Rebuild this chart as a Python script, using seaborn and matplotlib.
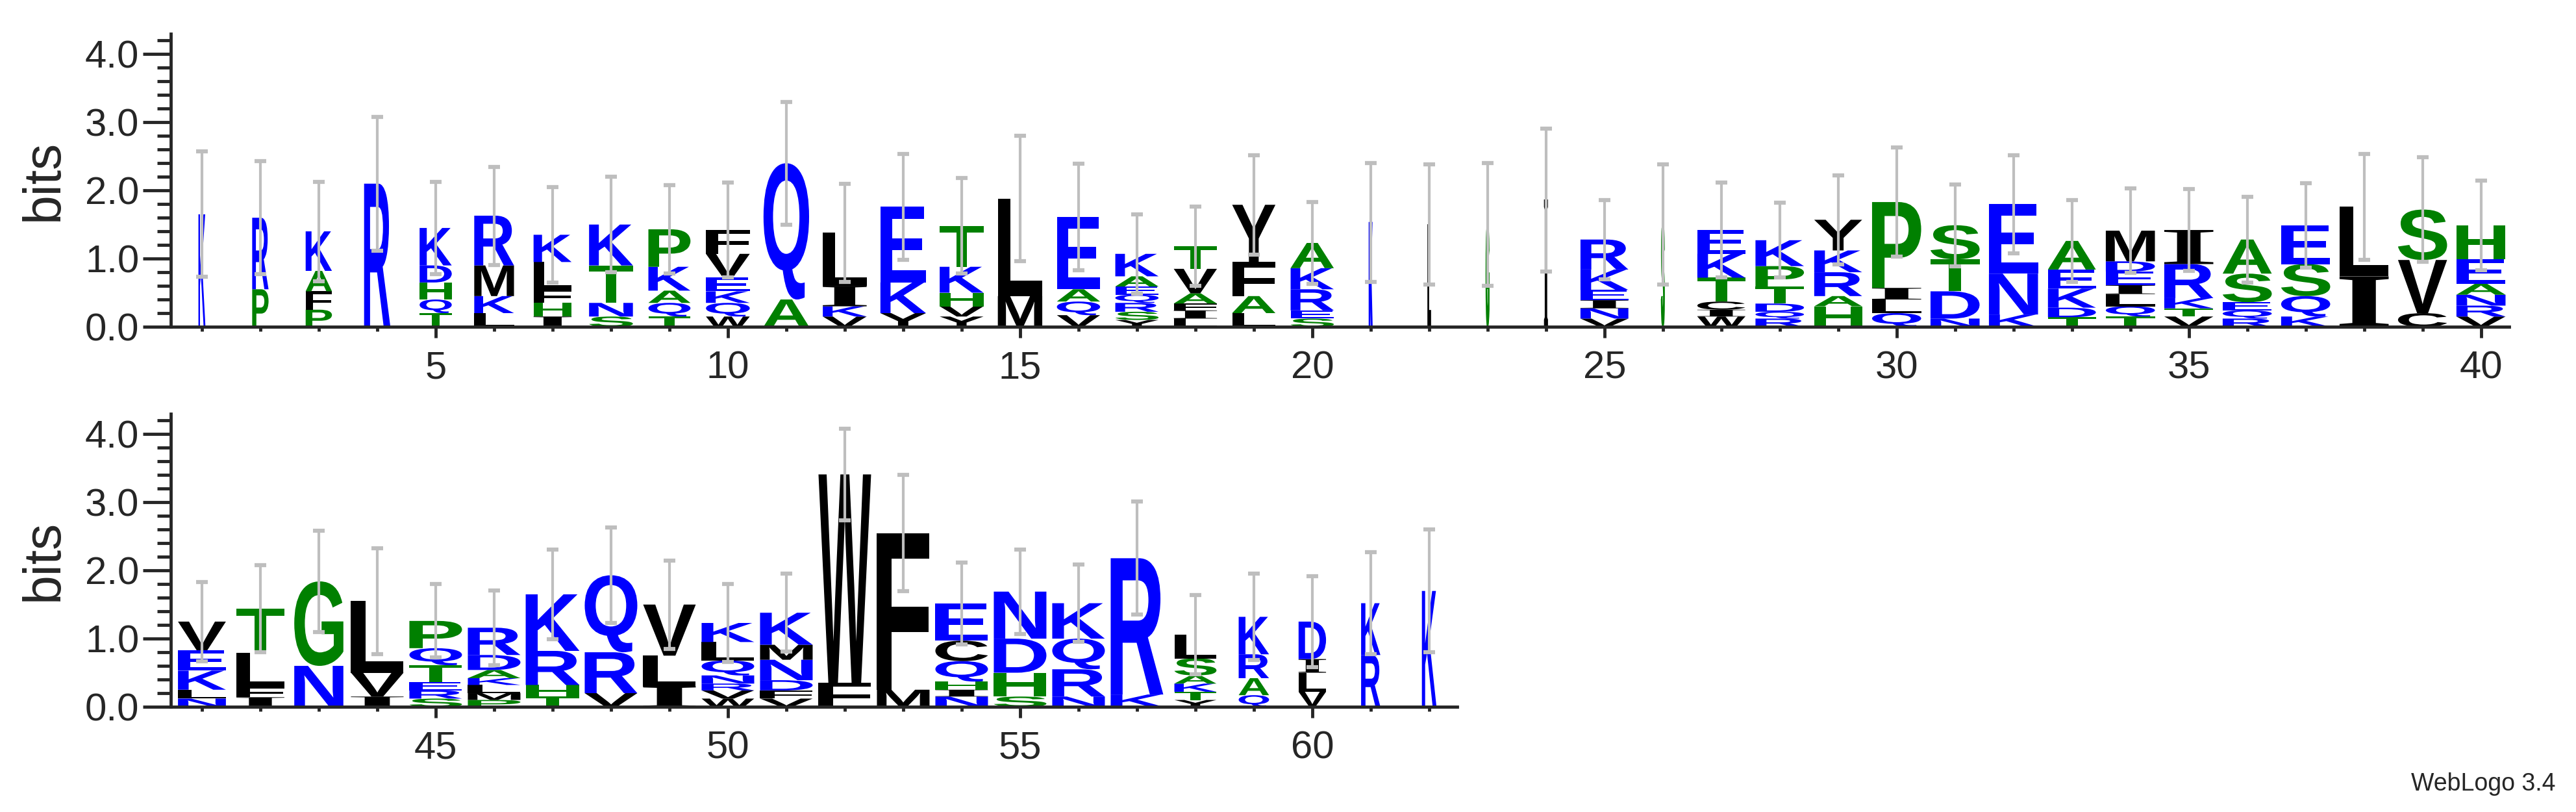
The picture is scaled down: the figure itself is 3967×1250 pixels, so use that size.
import numpy as np
import matplotlib
matplotlib.use("Agg")
import matplotlib.pyplot as plt
import seaborn as sns
from matplotlib.textpath import TextPath
from matplotlib.patches import PathPatch
from matplotlib.font_manager import FontProperties
from matplotlib.transforms import Affine2D
from matplotlib.ticker import MultipleLocator, FixedLocator

# letter stacks per position, bottom to top: (letter, bits)
stacks = [
    [("K", 1.65)],
    [("P", 0.55), ("R", 1.05)],
    [("P", 0.25), ("F", 0.27), ("A", 0.3), ("K", 0.58)],
    [("R", 2.1)],
    [("T", 0.2), ("Q", 0.2), ("H", 0.25), ("D", 0.25), ("K", 0.55)],
    [("L", 0.2), ("K", 0.25), ("M", 0.45), ("R", 0.73)],
    [("I", 0.15), ("H", 0.2), ("F", 0.2), ("L", 0.4), ("K", 0.4)],
    [("S", 0.15), ("N", 0.2), ("T", 0.55), ("K", 0.6)],
    [("T", 0.15), ("Q", 0.2), ("A", 0.18), ("K", 0.35), ("P", 0.55)],
    [("W", 0.15), ("Q", 0.2), ("K", 0.17), ("E", 0.2), ("V", 0.35), ("F", 0.35)],
    [("A", 0.4), ("Q", 2.0)],
    [("V", 0.15), ("K", 0.15), ("I", 0.3), ("L", 0.78)],
    [("Y", 0.2), ("K", 0.45), ("E", 1.11)],
    [("Y", 0.15), ("V", 0.15), ("H", 0.2), ("K", 0.38), ("T", 0.6)],
    [("M", 0.45), ("L", 1.43)],
    [("V", 0.17), ("Q", 0.2), ("A", 0.18), ("E", 1.06)],
    [("Y", 0.1), ("S", 0.12), ("R", 0.13), ("Q", 0.12), ("E", 0.12), ("A", 0.15), ("K", 0.33)],
    [("L", 0.12), ("I", 0.12), ("F", 0.1), ("A", 0.15), ("V", 0.36), ("T", 0.33)],
    [("L", 0.2), ("A", 0.25), ("F", 0.5), ("Y", 0.84)],
    [("S", 0.12), ("E", 0.12), ("R", 0.31), ("K", 0.31), ("A", 0.37)],
    [("K", 1.53)],
    [("L", 1.5)],
    [("G", 1.5)],
    [("I", 1.86)],
    [("V", 0.12), ("N", 0.15), ("I", 0.12), ("E", 0.15), ("K", 0.3), ("R", 0.44)],
    [("S", 1.5)],
    [("W", 0.15), ("I", 0.1), ("C", 0.12), ("T", 0.35), ("K", 0.35), ("E", 0.35)],
    [("R", 0.12), ("Q", 0.1), ("D", 0.12), ("T", 0.25), ("P", 0.3), ("K", 0.38)],
    [("H", 0.3), ("A", 0.15), ("R", 0.35), ("K", 0.32), ("Y", 0.45)],
    [("Q", 0.2), ("L", 0.2), ("I", 0.17), ("P", 1.26)],
    [("N", 0.12), ("D", 0.4), ("T", 0.47), ("S", 0.5)],
    [("K", 0.18), ("N", 0.6), ("E", 1.02)],
    [("T", 0.14), ("D", 0.14), ("K", 0.28), ("E", 0.28), ("A", 0.42)],
    [("T", 0.15), ("Q", 0.15), ("L", 0.18), ("I", 0.13), ("E", 0.2), ("D", 0.15), ("M", 0.45)],
    [("V", 0.15), ("T", 0.12), ("K", 0.15), ("R", 0.5), ("I", 0.5)],
    [("R", 0.12), ("Q", 0.12), ("E", 0.12), ("S", 0.42), ("A", 0.5)],
    [("K", 0.15), ("Q", 0.3), ("S", 0.47), ("E", 0.57)],
    [("I", 0.74), ("L", 1.02)],
    [("C", 0.2), ("V", 0.78), ("S", 0.74)],
    [("V", 0.15), ("R", 0.16), ("N", 0.16), ("A", 0.16), ("E", 0.36), ("H", 0.5)],
    [("N", 0.12), ("L", 0.13), ("K", 0.28), ("E", 0.3), ("V", 0.42)],
    [("I", 0.14), ("F", 0.15), ("L", 0.5), ("T", 0.65)],
    [("N", 0.6), ("G", 1.24)],
    [("I", 0.15), ("V", 0.35), ("L", 1.05)],
    [("S", 0.12), ("R", 0.12), ("E", 0.12), ("T", 0.25), ("Q", 0.25), ("P", 0.4)],
    [("P", 0.1), ("M", 0.1), ("L", 0.12), ("K", 0.1), ("A", 0.12), ("D", 0.22), ("R", 0.4)],
    [("T", 0.15), ("H", 0.17), ("R", 0.5), ("K", 0.83)],
    [("V", 0.2), ("R", 0.6), ("Q", 1.13)],
    [("I", 0.3), ("L", 0.45), ("V", 0.75)],
    [("W", 0.12), ("V", 0.12), ("R", 0.1), ("N", 0.12), ("Q", 0.22), ("L", 0.27), ("K", 0.28)],
    [("V", 0.12), ("F", 0.12), ("D", 0.15), ("N", 0.3), ("M", 0.22), ("K", 0.47)],
    [("F", 0.35), ("W", 3.06)],
    [("M", 0.25), ("F", 2.3)],
    [("N", 0.15), ("I", 0.1), ("H", 0.12), ("Q", 0.3), ("C", 0.3), ("E", 0.55)],
    [("S", 0.15), ("H", 0.35), ("D", 0.5), ("N", 0.69)],
    [("N", 0.15), ("R", 0.4), ("Q", 0.45), ("K", 0.52)],
    [("K", 0.18), ("R", 2.0)],
    [("Y", 0.1), ("T", 0.12), ("K", 0.12), ("A", 0.12), ("S", 0.25), ("L", 0.35)],
    [("Q", 0.17), ("A", 0.25), ("R", 0.35), ("K", 0.55)],
    [("V", 0.22), ("L", 0.28), ("I", 0.2), ("D", 0.55)],
    [("R", 0.76), ("K", 0.76)],
    [("K", 1.7)],
]

# half-length of the grey error bar per position
errors = [0.92, 0.83, 0.73, 0.98, 0.68, 0.72, 0.7, 0.7, 0.65, 0.7,
          0.9, 0.72, 0.78, 0.7, 0.92, 0.78, 0.58, 0.58, 0.73, 0.6,
          0.87, 0.88, 0.9, 1.05, 0.58, 0.88, 0.7, 0.55, 0.65, 0.8,
          0.6, 0.72, 0.6, 0.62, 0.6, 0.63, 0.62, 0.78, 0.77, 0.66,
          0.58, 0.64, 0.74, 0.78, 0.54, 0.55, 0.66, 0.7, 0.65, 0.57,
          0.57, 0.67, 0.85, 0.6, 0.62, 0.57, 0.83, 0.58, 0.63, 0.67,
          0.75, 0.9]

# stack widths (narrow where many gaps)
widths = [0.12, 0.28, 0.45, 0.45, 0.55, 0.68, 0.65, 0.75, 0.72, 0.75,
          0.78, 0.75, 0.78, 0.75, 0.76, 0.74, 0.74, 0.74, 0.74, 0.74,
          0.05, 0.05, 0.05, 0.05, 0.82, 0.05, 0.82, 0.83, 0.82, 0.84,
          0.84, 0.84, 0.82, 0.84, 0.84, 0.84, 0.84, 0.84, 0.84, 0.84,
          0.82, 0.82, 0.84, 0.9, 0.9, 0.9, 0.92, 0.9, 0.9, 0.9,
          0.9, 0.9, 0.9, 0.9, 0.9, 0.9, 0.9, 0.72, 0.52, 0.47,
          0.33, 0.25]

blue = "#0000FF"
green = "#008000"
black = "#000000"
colours = {}
for c in "KRDENQ":
    colours[c] = blue
for c in "GSTAPH":
    colours[c] = green

sns.set_style("ticks")
plt.rcParams["font.family"] = ["Liberation Sans", "DejaVu Sans"]

letter_font = FontProperties(family="Liberation Sans", weight="bold")
serif_font = FontProperties(family="Liberation Serif", weight="bold")
glyphs = {}


def draw_letter(ax, ch, x0, y0, w, h):
    if ch not in glyphs:
        prop = serif_font if ch == "I" else letter_font
        glyphs[ch] = TextPath((0, 0), ch, size=1, prop=prop)
    p = glyphs[ch]
    ext = p.get_extents()
    tr = Affine2D().translate(-ext.x0, -ext.y0).scale(w / ext.width, h / ext.height).translate(x0, y0)
    col = colours.get(ch, black)
    ax.add_patch(PathPatch(tr.transform_path(p), lw=1.2 if w < 0.1 else 0, ec=col, fc=col))


def draw_logo(ax, first, last):
    for pos in range(first, last + 1):
        i = pos - 1
        w = widths[i]
        y = 0.0
        for ch, h in stacks[i]:
            draw_letter(ax, ch, pos - w / 2, y, w, h)
            y += h
        e = errors[i]
        ax.plot([pos, pos], [y - e, y + e], color="#BEBEBE", lw=3, zorder=5, solid_capstyle="butt")
        for yy in (y - e, y + e):
            ax.plot([pos - 0.1, pos + 0.1], [yy, yy], color="#BEBEBE", lw=4.5, zorder=5, solid_capstyle="butt")

    ax.set_xlim(first - 0.533, last + 0.48)
    ax.set_ylim(0, 4.3)
    ax.yaxis.set_major_locator(FixedLocator([0, 1, 2, 3, 4]))
    ax.yaxis.set_minor_locator(MultipleLocator(0.2))
    ax.set_yticklabels(["0.0", "1.0", "2.0", "3.0", "4.0"])
    majors = [p for p in range(first, last + 1) if p % 5 == 0]
    ax.xaxis.set_major_locator(FixedLocator(majors))
    ax.xaxis.set_minor_locator(FixedLocator(list(range(first, last + 1))))
    ax.set_xticklabels([str(p) for p in majors])
    ax.tick_params(axis="y", which="major", length=31, width=3.5, labelsize=43, pad=4)
    ax.tick_params(axis="y", which="minor", length=15, width=3.5)
    ax.tick_params(axis="x", which="major", length=12, width=3.5, labelsize=43, pad=14)
    ax.tick_params(axis="x", which="minor", length=5, width=3.5)
    ax.set_ylabel("bits", fontsize=58, labelpad=18)
    sns.despine(ax=ax)
    for s in ("left", "bottom"):
        ax.spines[s].set_linewidth(3.5)


fig = plt.figure(figsize=(39.67, 12.5), dpi=100)
ax1 = fig.add_axes([0.0663, 0.5976, 0.9077, 0.3608])
ax2 = fig.add_axes([0.0663, 0.1296, 0.4994, 0.3608])
draw_logo(ax1, 1, 40)
draw_logo(ax2, 41, 62)
fig.text(0.992, 0.02, "WebLogo 3.4", ha="right", va="bottom", fontsize=27)
fig.savefig("out.png", dpi=100)
